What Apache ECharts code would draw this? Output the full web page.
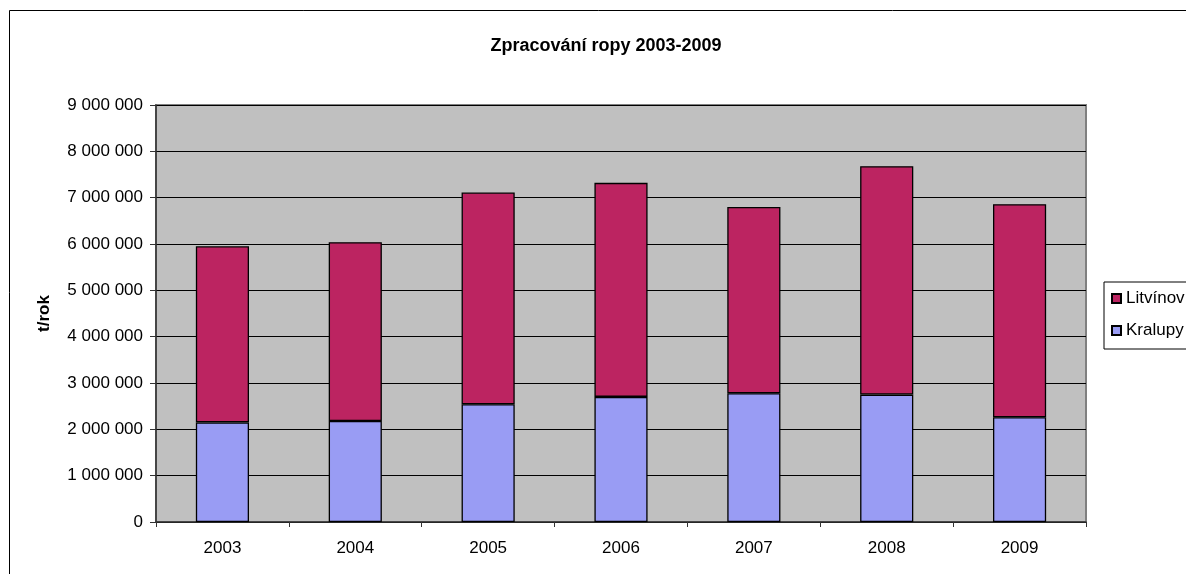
<!DOCTYPE html>
<html>
<head>
<meta charset="utf-8">
<script src="https://cdn.jsdelivr.net/npm/echarts@6/dist/echarts.min.js"></script>
<style>
html,body{margin:0;padding:0;background:#fff;}
#chart{width:1186px;height:574px;}
</style>
</head>
<body>
<div id="chart"></div>
<script>
const years = ['2003','2004','2005','2006','2007','2008','2009'];
const kralupy = [2150000, 2180000, 2540000, 2700000, 2780000, 2750000, 2260000];
const litvinov = [3800000, 3860000, 4570000, 4620000, 4020000, 4930000, 4600000];
const seriesNames = ['Litvínov', 'Kralupy'];
const titleText = 'Zpracování ropy 2003-2009';
const yAxisName = 't/rok';

const font = '"Liberation Sans", Arial, sans-serif';
function fmt(v){
  return String(v).replace(/\B(?=(\d{3})+(?!\d))/g, ' ');
}

const chart = echarts.init(document.getElementById('chart'), null, {renderer:'canvas'});
chart.setOption({
  animation: false,
  backgroundColor: '#fff',
  textStyle: {fontFamily: font},
  graphic: [{
    type: 'rect', z: -10, silent: true,
    shape: {x: 9.5, y: 10.5, width: 1400, height: 800},
    style: {fill: 'none', stroke: '#000', lineWidth: 1}
  }],
  title: {
    text: titleText,
    left: 601, top: 32, textAlign: 'center',
    textStyle: {fontFamily: font, fontWeight: 'bold', fontSize: 18, color: '#000'}
  },
  legend: {
    data: seriesNames,
    orient: 'vertical',
    left: 1104, top: 282,
    borderColor: '#000', borderWidth: 1,
    padding: [7, 12, 9, 7],
    itemGap: 13,
    itemWidth: 9, itemHeight: 9,
    icon: 'rect',
    textStyle: {fontFamily: font, fontSize: 17, color: '#000', lineHeight: 19}
  },
  grid: {
    left: 156, top: 105, right: 100, bottom: 52,
    show: true, backgroundColor: '#C0C0C0', borderColor: '#808080', borderWidth: 2,
    containLabel: false
  },
  xAxis: {
    type: 'category',
    data: years,
    boundaryGap: true,
    axisLine: {lineStyle: {color: '#333', width: 1.5}},
    axisTick: {show: true, inside: false, length: 5, lineStyle: {color: '#333'}},
    axisLabel: {color: '#000', fontSize: 17, margin: 18, fontFamily: font}
  },
  yAxis: {
    type: 'value',
    min: 0, max: 9000000, interval: 1000000,
    name: yAxisName,
    nameLocation: 'middle',
    nameGap: 103,
    nameRotate: 90,
    nameTextStyle: {fontFamily: font, fontWeight: 'bold', fontSize: 17, color: '#000'},
    axisLine: {show: true, lineStyle: {color: '#333', width: 1.5}},
    axisTick: {show: true, inside: false, length: 6, lineStyle: {color: '#333'}},
    axisLabel: {color: '#000', fontSize: 17, margin: 13, fontFamily: font, formatter: fmt},
    splitLine: {show: true, lineStyle: {color: '#000', width: 1}}
  },
  series: [
    {
      name: 'Kralupy', type: 'bar', stack: 'total', data: kralupy,
      barWidth: '40%',
      itemStyle: {color: '#999CF4', borderColor: '#000', borderWidth: 1.3}
    },
    {
      name: 'Litvínov', type: 'bar', stack: 'total', data: litvinov,
      barWidth: '40%',
      itemStyle: {color: '#BC2461', borderColor: '#000', borderWidth: 1.3}
    }
  ]
});
</script>
</body>
</html>
